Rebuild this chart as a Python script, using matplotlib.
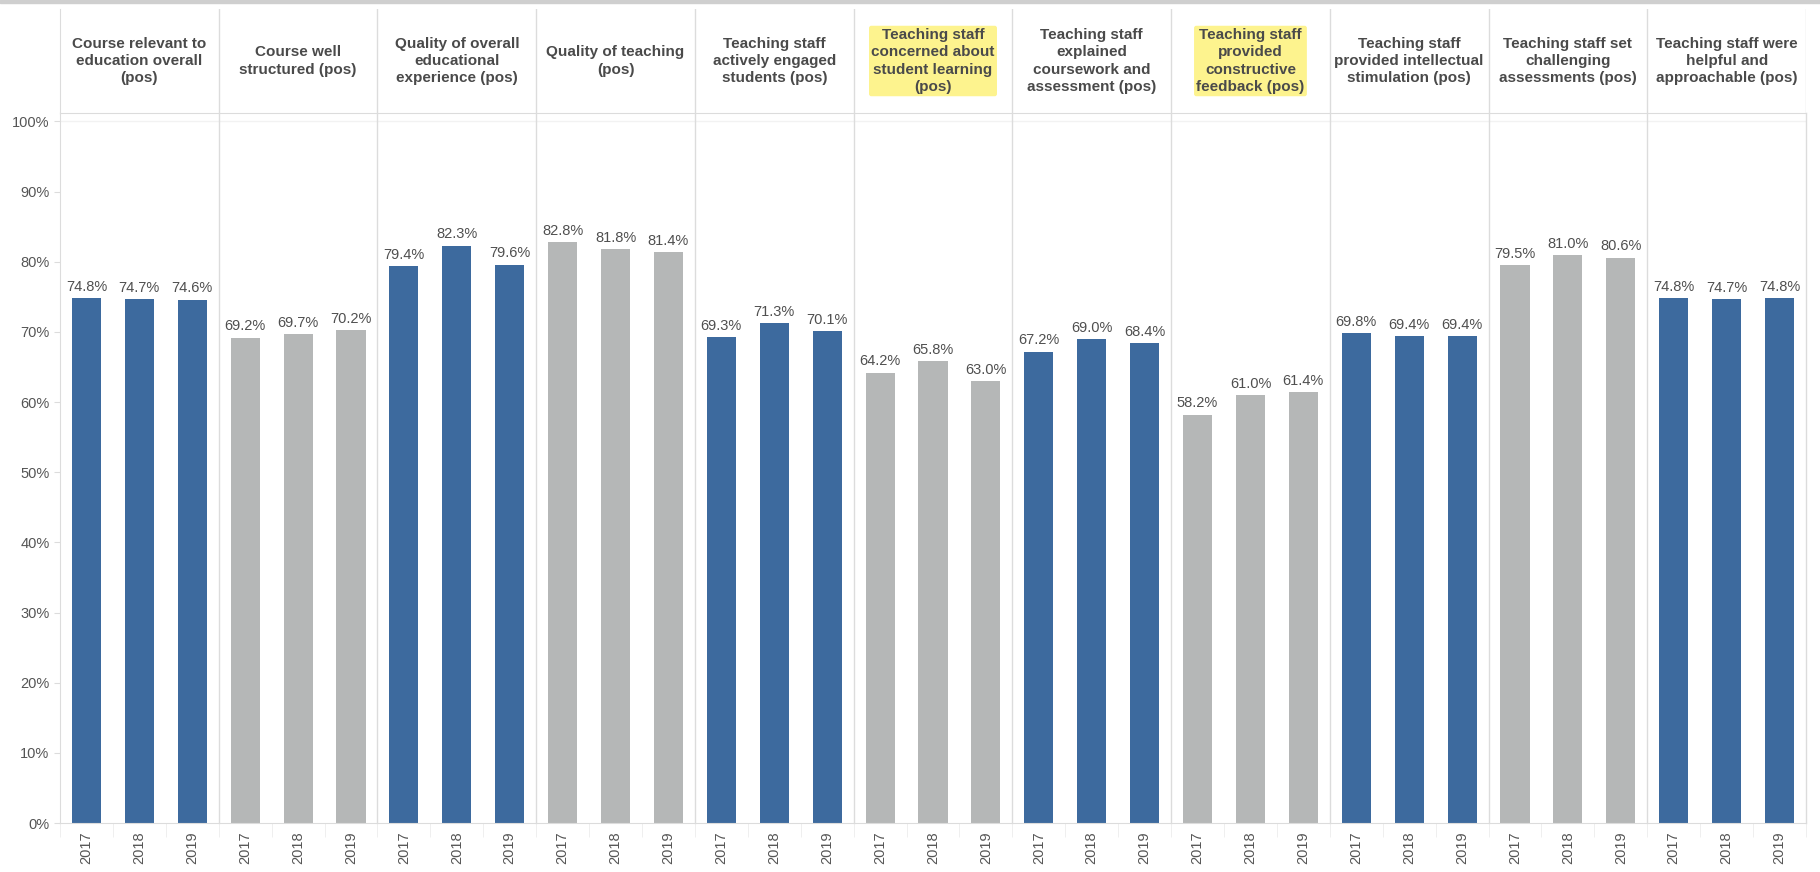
import numpy as np
import matplotlib
matplotlib.use("Agg")
import matplotlib.pyplot as plt

plt.rcParams['font.family'] = ['Liberation Sans', 'DejaVu Sans']

# survey items (column headers)
items = [
    "Course relevant to\neducation overall\n(pos)",
    "Course well\nstructured (pos)",
    "Quality of overall\neducational\nexperience (pos)",
    "Quality of teaching\n(pos)",
    "Teaching staff\nactively engaged\nstudents (pos)",
    "Teaching staff\nconcerned about\nstudent learning\n(pos)",
    "Teaching staff\nexplained\ncoursework and\nassessment (pos)",
    "Teaching staff\nprovided\nconstructive\nfeedback (pos)",
    "Teaching staff\nprovided intellectual\nstimulation (pos)",
    "Teaching staff set\nchallenging\nassessments (pos)",
    "Teaching staff were\nhelpful and\napproachable (pos)",
]
years = ["2017", "2018", "2019"]

# % positive per item, 2017 / 2018 / 2019
pct_2017 = [74.8, 69.2, 79.4, 82.8, 69.3, 64.2, 67.2, 58.2, 69.8, 79.5, 74.8]
pct_2018 = [74.7, 69.7, 82.3, 81.8, 71.3, 65.8, 69.0, 61.0, 69.4, 81.0, 74.7]
pct_2019 = [74.6, 70.2, 79.6, 81.4, 70.1, 63.0, 68.4, 61.4, 69.4, 80.6, 74.8]

highlighted = [5, 7]

blue = "#3d6a9e"
grey = "#b5b7b7"
line_col = "#dcdcdc"

fig = plt.figure(figsize=(18.2, 8.72), dpi=100)
W, H = 1820, 872
left, right = 60, 1806
top_plot, bottom_plot = 113, 823
ax = fig.add_axes([left / W, 1 - bottom_plot / H, (right - left) / W, (bottom_plot - top_plot) / H])
hx = fig.add_axes([left / W, 1 - top_plot / H, (right - left) / W, (top_plot - 9) / H])

n = len(items)
vals = np.array([pct_2017, pct_2018, pct_2019]).T  # shape (items, years)

for i in range(n):
    col = blue if i % 2 == 0 else grey
    for j in range(3):
        x = i * 3 + j
        v = vals[i, j]
        ax.bar(x, v, width=0.55, color=col, zorder=2)
        ax.text(x, v + 0.6, f"{v:.1f}%", ha="center", va="bottom",
                fontsize=10.5, color="#4f4f4f")

ax.set_xlim(-0.5, n * 3 - 0.5)
ax.set_ylim(0, 101.2)
ax.set_yticks(np.arange(0, 101, 10))
ax.set_yticklabels([f"{t}%" for t in range(0, 101, 10)], fontsize=10.5, color="#555555")
ax.set_xticks(np.arange(n * 3))
ax.set_xticklabels(years * n, rotation=90, fontsize=10.5, color="#555555")
ax.tick_params(axis="x", length=0, pad=6)
ax.tick_params(axis="y", length=4, color=line_col)
# small separators between the year labels
ax.set_xticks(np.arange(n * 3 + 1) - 0.5, minor=True)
ax.tick_params(axis="x", which="minor", length=10, color="#ececec")

for s in ["top", "right"]:
    ax.spines[s].set_visible(False)
ax.spines["left"].set_color(line_col)
ax.spines["bottom"].set_color(line_col)

# panel dividers
for i in range(1, n + 1):
    ax.axvline(i * 3 - 0.5, color=line_col, lw=1, zorder=1, clip_on=False)
    hx.axvline(i * 3 - 0.5, color=line_col, lw=1)
ax.axhline(100, color="#f2f2f2", lw=1, zorder=0)

# header row
hx.set_xlim(-0.5, n * 3 - 0.5)
hx.set_ylim(0, 1)
hx.set_xticks([])
hx.set_yticks([])
for s in ["top", "right"]:
    hx.spines[s].set_visible(False)
hx.spines["bottom"].set_color(line_col)
hx.spines["left"].set_color(line_col)
for i, name in enumerate(items):
    kw = {}
    if i in highlighted:
        kw["bbox"] = dict(boxstyle="round,pad=0.15", facecolor="#fdf17a", edgecolor="none", alpha=0.85)
    hx.text(i * 3 + 1, 0.5, name, ha="center", va="center", fontsize=11,
            fontweight="bold", color="#4a4a4a", linespacing=1.3, **kw)

# thin bar along the top edge
fig.add_artist(plt.Rectangle((0, 1 - 3 / H), 1, 3 / H, transform=fig.transFigure, color="#cfcfcf"))

fig.savefig("out.png", dpi=100)
